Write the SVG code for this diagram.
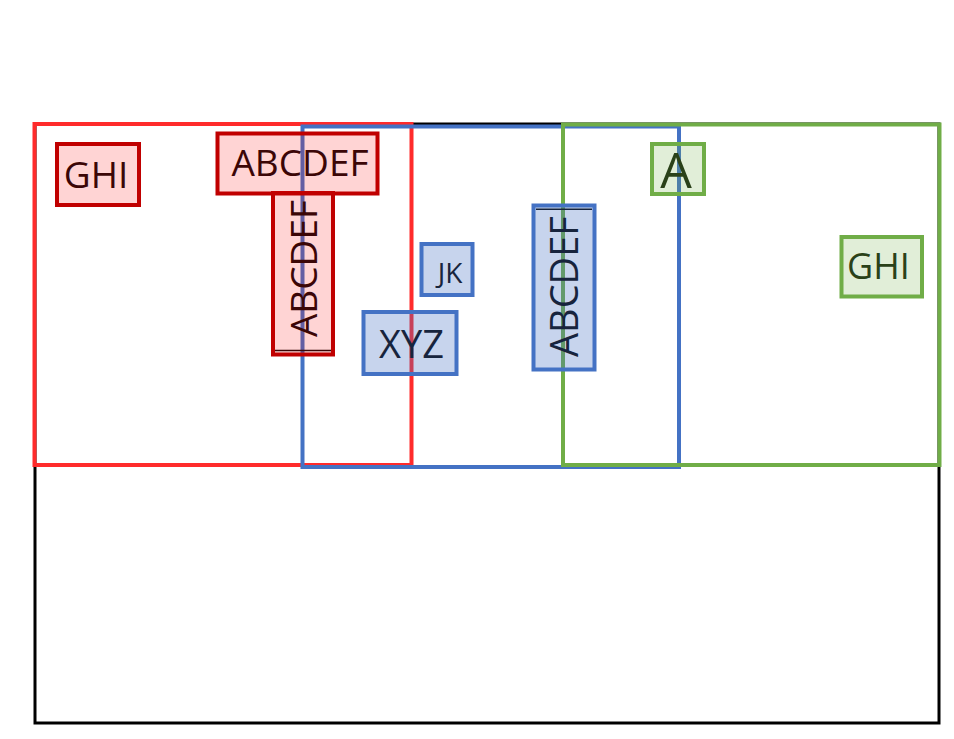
<svg xmlns="http://www.w3.org/2000/svg" width="954" height="739" viewBox="0 0 954 739">
<style>
.t{font-family:"Open Sans","Noto Sans","Liberation Sans",sans-serif;}
.cont{fill:none;stroke-width:4;}
.rn{fill:#ff0000;fill-opacity:0.17;stroke:#c00000;stroke-width:4;}
.bn{fill:#4472c4;fill-opacity:0.3;stroke:#4472c4;stroke-width:4;}
.gn{fill:#70ad47;fill-opacity:0.21;stroke:#70ad47;stroke-width:4;}
.rt{fill:#3b0606;}
.bt{fill:#17243d;}
.gt{fill:#2a4119;}
</style>
<rect width="954" height="739" fill="#ffffff"/>
<g id="outer"><rect x="35" y="124" width="904" height="599" fill="none" stroke="#000000" stroke-width="3"/></g>
<g id="containers">
<g id="red-container"><rect class="cont" x="34.5" y="124" width="377" height="341" stroke="#ff2b2b"/></g>
<g id="blue-container"><rect class="cont" x="302.5" y="126.5" width="376.5" height="340.5" stroke="#4472c4"/></g>
<g id="green-container"><rect class="cont" x="563" y="124.5" width="376.5" height="340.5" stroke="#70ad47"/></g>
</g>
<g id="red-ghi"><rect class="rn" x="57" y="144" width="82" height="61"/><text class="t rt" x="96" y="187.5" font-size="37" text-anchor="middle">GHI</text></g>
<g id="red-abcdef-v"><rect class="rn" x="273" y="193" width="60" height="161.5"/><line x1="275" y1="350.5" x2="331" y2="350.5" stroke="#3b0606" stroke-width="1.5"/><text class="t rt" transform="translate(317,268.5) rotate(-90)" font-size="37" text-anchor="middle">ABCDEF</text></g>
<g id="red-abcdef-h"><rect class="rn" x="217.5" y="133.5" width="160" height="60"/><text class="t rt" x="300" y="175.5" font-size="37" text-anchor="middle">ABCDEF</text></g>
<g id="blue-jk"><rect class="bn" x="421.5" y="244" width="51" height="51"/><text class="t bt" x="450" y="282.5" font-size="28" text-anchor="middle">JK</text></g>
<g id="blue-xyz"><rect class="bn" x="363.5" y="312" width="93" height="62"/><text class="t bt" x="411.5" y="357.5" font-size="38" text-anchor="middle">XYZ</text></g>
<g id="blue-abcdef-v"><rect class="bn" x="533.5" y="205.5" width="61" height="164"/><line x1="536" y1="209.3" x2="592" y2="209.3" stroke="#17243d" stroke-width="1.5"/><text class="t bt" transform="translate(577.5,286.5) rotate(-90)" font-size="38" text-anchor="middle">ABCDEF</text></g>
<g id="green-a"><rect class="gn" x="652" y="144" width="52" height="50"/><text class="t gt" x="676" y="188" font-size="50" text-anchor="middle">A</text></g>
<g id="green-ghi"><rect class="gn" x="841.5" y="237" width="80.5" height="59.5"/><text class="t gt" x="878.5" y="279" font-size="36" text-anchor="middle">GHI</text></g>
</svg>
